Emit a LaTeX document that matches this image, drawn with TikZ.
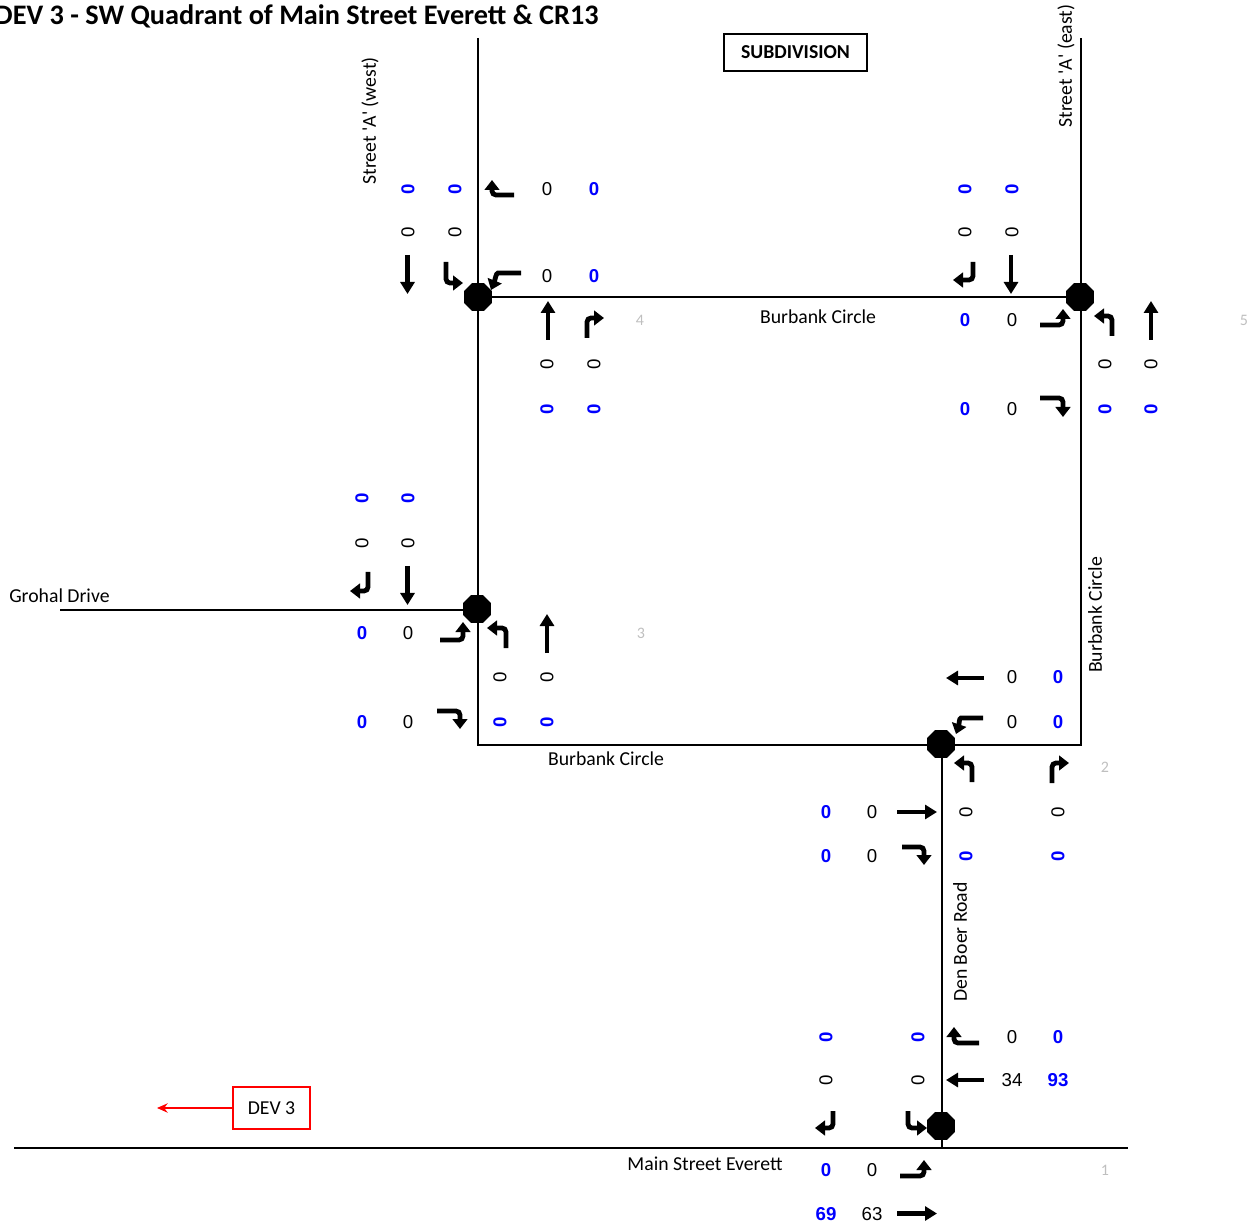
\documentclass[tikz,border=0pt]{standalone}
\usepackage{fontspec}
\setmainfont{Carlito}
\newfontfamily\numfont{Liberation Sans}
\usetikzlibrary{arrows.meta,shapes.geometric}
\newcommand\ck[3]{\node[cntk] (k#1-#2) at (#1,#2) {#3};}
\newcommand\cb[3]{\node[cntb] (b#1-#2) at (#1,#2) {#3};}
\newcommand\vk[2]{\node[cntk,rotate=90] (vk#1-#2) at (#1,#2) {0};}
\newcommand\vb[2]{\node[cntb,rotate=90] (vb#1-#2) at (#1,#2) {0};}
\begin{document}
\begin{tikzpicture}[x=0.75pt,y=-0.75pt,
  road/.style={line width=1.5pt},
  lbl/.style={font=\fontsize{14.8}{16}\selectfont, inner sep=0pt},
  cntk/.style={font=\numfont\fontsize{14}{15}\selectfont, inner sep=0pt},
  cntb/.style={font=\numfont\bfseries\fontsize{14}{15}\selectfont, text=blue, inner sep=0pt},
  gnum/.style={font=\fontsize{12}{14}\selectfont, text=black!25, inner sep=0pt},
  sig/.style={regular polygon, regular polygon sides=8, fill=black, inner sep=0pt, minimum size=22.7pt},
  strarr/.style={line width=3.4pt, -{Triangle[width=10.5pt,length=9pt]}},
  turnarr/.style={line width=3.6pt, rounded corners=3pt, -{Triangle[width=11pt,length=7.5pt]}},
]
\useasboundingbox (0,0) rectangle (1254,1230);

% road end coordinates
\coordinate (w-top) at (478,38);
\coordinate (e-top) at (1081,38);
\coordinate (sw) at (478,745);
\coordinate (se) at (1081,745);
\coordinate (nw) at (478,297);
\coordinate (ne) at (1081,297);
\coordinate (g-w) at (60,610);
\coordinate (g-e) at (478,610);
\coordinate (d-n) at (941.5,745);
\coordinate (d-s) at (941.5,1148);
\coordinate (m-w) at (14,1148);
\coordinate (m-e) at (1128,1148);

\draw[road] (w-top) -- (sw) -- (se) -- (e-top);
\draw[road] (nw) -- (ne);
\draw[road] (g-w) -- (g-e);
\draw[road] (d-n) -- (d-s);
\draw[road] (m-w) -- (m-e);

% signals
\node[sig] (i4) at (478,297) {};
\node[sig] (i5) at (1080,297) {};
\node[sig] (i3) at (477,609) {};
\node[sig] (i2) at (941,744) {};
\node[sig] (i1) at (941,1126) {};

% title and labels
\node[anchor=base east, inner sep=0pt, font=\bfseries\fontsize{21.2}{24}\selectfont] (title) at (599,25) {DEV 3 - SW Quadrant of Main Street Everett \& CR13};
\node[draw, line width=1.1pt, inner sep=0pt, minimum width=107.25pt, minimum height=27.75pt, font=\bfseries\fontsize{14.8}{16}\selectfont] (subdiv) at (795.5,52.5) {SUBDIVISION};
\node[lbl, rotate=90] (stw) at (370,121) {Street \textquotesingle A\textquotesingle\ (west)};
\node[lbl, rotate=90] (ste) at (1066,66) {Street \textquotesingle A\textquotesingle\ (east)};
\node[lbl] (bct) at (818,317) {Burbank Circle};
\node[lbl] (bcb) at (606,759) {Burbank Circle};
\node[lbl, rotate=90] (bcr) at (1095,615) {Burbank Circle};
\node[lbl, anchor=west] (grohal) at (9,596) {Grohal Drive};
\node[lbl, rotate=90] (denboer) at (960,942) {Den Boer Road};
\node[lbl] (mainst) at (705,1164) {Main Street Everett};
\node[draw=red, line width=1.1pt, inner sep=0pt, minimum width=57.75pt, minimum height=31.5pt, font=\fontsize{14.8}{16}\selectfont] (dev) at (271.5,1108) {DEV 3};
\coordinate (devtip) at (157,1108);
\draw[red, line width=1.1pt, -{Stealth[length=8pt,width=7pt]}] (dev.west) -- (devtip);

% gray intersection numbers
\node[gnum] (n4) at (640,320) {4};
\node[gnum] (n5) at (1244,320) {5};
\node[gnum] (n3) at (641,633) {3};
\node[gnum] (n2) at (1105,767) {2};
\node[gnum] (n1) at (1105,1170) {1};

% ---------- Intersection 4 ----------
\vb{408}{189}\vb{455}{189}\vk{408}{232}\vk{455}{232}
\ck{547}{189}{0}\cb{594}{189}{0}\ck{547}{276}{0}\cb{594}{276}{0}
\vk{547}{364}\vk{594}{364}\vb{547}{409}\vb{594}{409}
\draw[strarr] (407.5,255) -- (407.5,294);
\draw[turnarr] (446,262) -- (446,283) -- (463,283);
\draw[turnarr] (514,195) -- (492,195) -- (492,180);
\draw[turnarr] (521,273) -- (502,273) .. controls (496,273) and (495,280) .. (491,290);
\draw[strarr] (548,340) -- (548,301);
\draw[turnarr] (587,338) -- (587,318) -- (604,318);

% ---------- Intersection 5 ----------
\vb{965}{189}\vb{1012}{189}\vk{965}{232}\vk{1012}{232}
\cb{965}{320}{0}\ck{1012}{320}{0}\cb{965}{409}{0}\ck{1012}{409}{0}
\vk{1105}{364}\vk{1151}{364}\vb{1105}{409}\vb{1151}{409}
\draw[turnarr] (973,262) -- (973,280) -- (953,280);
\draw[strarr] (1011,255) -- (1011,294);
\draw[turnarr] (1040,325) -- (1063,325) -- (1063,309);
\draw[turnarr] (1040,398) -- (1063,398) -- (1063,417);
\draw[turnarr] (1112,336) -- (1112,316) -- (1094,316);
\draw[strarr] (1151,340) -- (1151,301);

% ---------- Intersection 3 ----------
\vb{362}{498}\vb{408}{498}\vk{362}{543}\vk{408}{543}
\cb{362}{633}{0}\ck{408}{633}{0}\cb{362}{722}{0}\ck{408}{722}{0}
\vk{500}{677}\vk{547}{677}\vb{500}{722}\vb{547}{722}
\draw[turnarr] (368,572) -- (368,591) -- (350,591);
\draw[strarr] (407.5,566) -- (407.5,605);
\draw[turnarr] (440,640) -- (463,640) -- (463,622);
\draw[turnarr] (437,711) -- (460,711) -- (460,729);
\draw[turnarr] (506,648) -- (506,628) -- (487,628);
\draw[strarr] (547,653) -- (547,614);

% ---------- Intersection 2 ----------
\ck{1012}{677}{0}\cb{1058}{677}{0}\ck{1012}{722}{0}\cb{1058}{722}{0}
\vk{966}{812}\vk{1058}{812}\vb{966}{856}\vb{1058}{856}
\cb{826}{812}{0}\ck{872}{812}{0}\cb{826}{856}{0}\ck{872}{856}{0}
\draw[strarr] (984,678) -- (946,678);
\draw[turnarr] (983,718) -- (965,718) .. controls (959,718) and (959,725) .. (956,734);
\draw[turnarr] (972,782) -- (972,763) -- (954,763);
\draw[turnarr] (1052,783) -- (1052,763) -- (1069,763);
\draw[strarr] (897,812) -- (937,812);
\draw[turnarr] (902,847) -- (924,847) -- (924,865);

% ---------- Intersection 1 ----------
\vb{826}{1037}\vb{918}{1037}\vk{826}{1080}\vk{918}{1080}
\ck{1012}{1037}{0}\cb{1058}{1037}{0}\ck{1012}{1080}{34}\cb{1058}{1080}{93}
\cb{826}{1170}{0}\ck{872}{1170}{0}\cb{826}{1214}{69}\ck{872}{1214}{63}
\draw[turnarr] (979,1043) -- (954,1043) -- (954,1027);
\draw[strarr] (984,1080) -- (946,1080);
\draw[turnarr] (833,1111) -- (833,1128) -- (815,1128);
\draw[turnarr] (908,1111) -- (908,1128) -- (927,1128);
\draw[turnarr] (900,1176) -- (924,1176) -- (924,1160);
\draw[strarr] (897,1213.5) -- (937,1213.5);
\end{tikzpicture}
\end{document}
